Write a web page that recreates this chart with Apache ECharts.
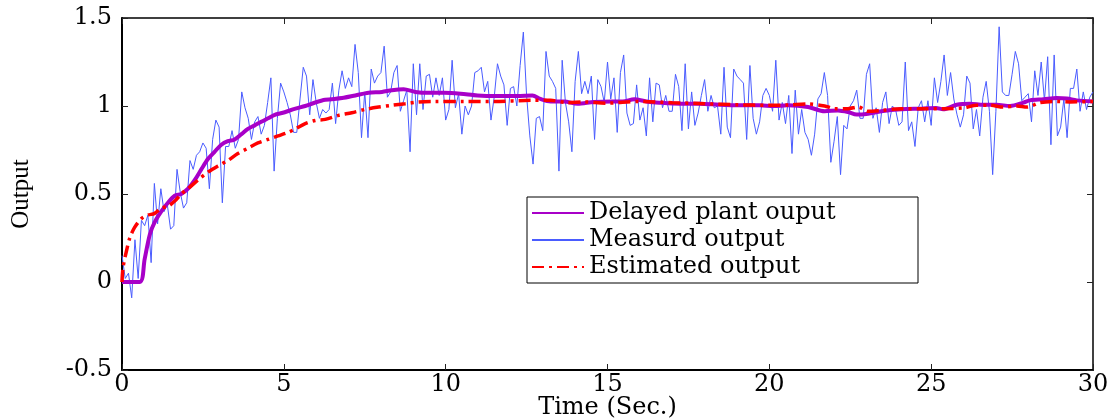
<!DOCTYPE html>
<html>
<head>
<meta charset="utf-8">
<script src="https://cdn.jsdelivr.net/npm/echarts@6/dist/echarts.min.js"></script>
<style>
html, body { margin: 0; padding: 0; background: #fff; }
#chart { width: 1115px; height: 419px; }
</style>
</head>
<body>
<div id="chart"></div>
<script>
// measured output, sampled every 0.1 s
var measStep = 0.1;
var measured = [
    0.15, 0.02, 0.05, -0.09, 0.24, 0.02, 0.35, 0.32, 0.38, 0.11, 0.56, 0.33, 0.53, 0.40, 0.44, 0.30, 0.32, 0.64, 0.51, 0.42,
    0.45, 0.69, 0.64, 0.72, 0.74, 0.79, 0.76, 0.53, 0.81, 0.92, 0.88, 0.45, 0.77, 0.77, 0.86, 0.76, 0.81, 1.08, 0.99, 0.93,
    0.81, 0.91, 0.94, 0.84, 0.89, 1.02, 1.16, 0.63, 0.93, 1.13, 1.08, 1.02, 0.95, 0.85, 0.85, 1.04, 1.22, 1.17, 0.95, 1.15,
    1.02, 0.93, 0.98, 0.96, 0.98, 1.13, 0.90, 1.09, 1.20, 1.10, 1.16, 1.11, 1.35, 1.19, 0.82, 1.08,
    0.82, 1.21, 1.13, 1.17, 1.19, 1.34, 1.05, 1.08, 1.19, 1.23, 0.97, 1.03, 1.09, 0.74, 1.24, 0.95, 1.24, 0.98, 1.17, 1.18,
    1.05, 1.16, 1.06, 1.16, 0.92, 0.98, 1.26, 0.99, 1.07, 0.84, 1.00, 0.95, 1.00, 1.19, 1.20, 1.22, 1.08, 1.14, 0.92, 1.05,
    1.24, 1.17, 1.12, 0.89, 1.10, 1.11, 1.00, 1.23, 1.42, 1.06, 0.83, 0.67, 0.93, 0.94, 0.86, 1.31, 1.17, 1.14, 1.10, 0.63,
    1.26, 1.02, 0.91, 0.74, 1.14, 1.31, 1.07, 1.14, 1.07, 1.17, 0.81, 1.15, 1.11, 1.02, 1.25,
    1.04, 1.16, 0.85, 1.19, 1.29, 0.96, 0.89, 0.90, 1.12, 0.92, 0.99, 0.83, 1.16, 0.91, 1.13, 1.12, 0.99, 1.06, 0.97, 0.97,
    1.18, 1.11, 0.86, 1.24, 0.87, 1.08, 0.89, 0.96, 1.06, 1.15, 0.97, 1.06, 0.99, 1.00, 0.84, 1.22, 0.88, 0.82, 1.21, 1.17,
    1.15, 1.13, 0.81, 1.23, 0.93, 0.84, 0.91, 1.06, 1.10,
    1.06, 0.97, 1.26, 0.92, 1.02, 0.90, 1.06, 0.73, 1.09, 0.84, 0.98, 0.85, 0.81, 0.72, 0.84, 1.04, 1.07, 1.19, 1.06, 0.68,
    0.80, 0.94, 0.61, 0.89, 0.87, 1.00, 1.03, 1.09, 0.93, 0.93, 1.18, 1.24, 0.93, 0.99, 0.85, 1.02, 1.08, 0.90, 1.00, 0.98,
    0.89, 0.91, 1.25, 0.86, 0.91, 0.77, 0.99, 1.03, 0.91, 1.03,
    0.89, 1.16, 1.02, 1.14, 1.29, 1.06, 1.19, 1.04, 0.95, 0.88, 0.95, 1.17, 1.13, 0.87, 0.98, 0.83, 1.05, 1.14, 0.97, 0.61,
    0.97, 1.45, 1.08, 1.06, 1.06, 1.18, 1.31, 1.24, 1.03, 1.05, 1.07, 0.91, 1.20, 1.06, 1.25, 1.03, 1.28, 0.78, 1.29, 0.83,
    0.88, 1.04, 0.82, 1.10, 1.10, 1.21, 0.97, 1.08, 0.98, 1.05, 1.08
];

// delayed plant output
var plantT = [0, 0.55, 0.7, 0.86, 1.01, 1.21, 1.42, 1.63, 1.83, 2.04, 2.25, 2.45, 2.66, 2.86, 3.07, 3.27, 3.48, 3.69, 3.89, 4.1,
    4.3, 4.51, 4.72, 4.94, 5.36, 5.66, 5.97, 6.28, 6.8, 7.21, 7.62, 8.03, 8.34, 8.7, 9.06, 9.48, 9.95, 10.46, 10.98, 11.6,
    12.21, 12.68, 12.93, 13.24, 13.66, 14.07, 14.58, 15.14, 15.47, 15.83, 16.2, 16.6, 17.22, 17.84, 18.46, 19.07, 19.69, 20.14, 20.57, 21.2,
    21.71, 22.12, 22.43, 22.7, 23.05, 23.46, 24.08, 24.7, 25.15, 25.37, 25.79, 26.2, 26.61, 27.02, 27.44, 27.85, 28.05, 28.47, 28.88, 29.19,
    29.5, 30];
var plantV = [0, 0, 0.13, 0.27, 0.34, 0.40, 0.45, 0.49, 0.50, 0.53, 0.58, 0.64, 0.70, 0.74, 0.78, 0.80, 0.81, 0.84, 0.87, 0.89,
    0.91, 0.93, 0.95, 0.96, 0.985, 1.0, 1.02, 1.035, 1.045, 1.06, 1.075, 1.08, 1.09, 1.095, 1.08, 1.075, 1.075, 1.07, 1.06, 1.057,
    1.057, 1.06, 1.04, 1.026, 1.026, 1.013, 1.023, 1.026, 1.026, 1.038, 1.026, 1.019, 1.013, 1.013, 1.007, 1.004, 1.004, 1.0, 1.004, 0.994,
    0.97, 0.975, 0.966, 0.951, 0.956, 0.97, 0.981, 0.985, 0.989, 0.981, 1.007, 1.013, 1.007, 1.007, 1.0, 1.019, 1.032, 1.038, 1.045, 1.042,
    1.032, 1.026];

// estimated output
var estT = [0, 0.03, 0.13, 0.24, 0.39, 0.6, 0.8, 1.01, 1.21, 1.42, 1.63, 1.83, 2.04, 2.35, 2.66, 2.97, 3.27, 3.58, 3.89, 4.2,
    4.51, 4.82, 5.13, 5.36, 5.66, 5.97, 6.28, 6.69, 7.1, 7.52, 7.93, 8.34, 8.75, 9.17, 9.68, 10.56, 11.5, 12.63, 13.24, 13.76,
    14.27, 14.95, 15.98, 17.0, 18.0, 19.0, 19.96, 20.57, 21.2, 21.71, 22.02, 22.43, 22.75, 23.05, 23.46, 24.08, 24.7, 25.37, 26.0, 26.41,
    26.82, 27.23, 27.65, 27.96, 28.36, 28.88, 29.29, 30];
var estV = [0, 0.08, 0.17, 0.25, 0.31, 0.36, 0.38, 0.39, 0.42, 0.43, 0.46, 0.50, 0.53, 0.58, 0.625, 0.66, 0.69, 0.73, 0.76, 0.79,
    0.81, 0.83, 0.85, 0.87, 0.90, 0.918, 0.924, 0.947, 0.962, 0.981, 0.994, 1.004, 1.013, 1.023, 1.026, 1.026, 1.026, 1.032, 1.032, 1.019,
    1.023, 1.016, 1.026, 1.019, 1.013, 1.007, 1.004, 1.006, 1.011, 1.0, 0.985, 0.985, 0.994, 0.97, 0.975, 0.985, 0.985, 0.985, 0.989, 1.004,
    1.004, 0.994, 1.0, 0.994, 1.019, 1.026, 1.023, 1.026];

var legendNames = ['Delayed plant ouput', 'Measurd output', 'Estimated output'];

function pairs(xs, ys) {
    var out = [];
    for (var i = 0; i < ys.length; i++) out.push([xs[i], ys[i]]);
    return out;
}
var measData = measured.map(function (v, i) { return [+(i * measStep).toFixed(2), v]; });

var serif = 'DejaVu Serif';
var myChart = echarts.init(document.getElementById('chart'));
var tickStyle = { show: true, inside: true, length: 6, lineStyle: { color: '#222', width: 1 } };

var option = {
    animation: false,
    backgroundColor: '#fff',
    grid: { left: 122, right: 22, top: 18, bottom: 49, outerBoundsMode: 'none', containLabel: false },
    legend: {
        data: legendNames,
        orient: 'vertical',
        left: 527,
        top: 197,
        padding: [4, 4, 4, 4],
        itemGap: 3,
        itemWidth: 52,
        itemHeight: 14,
        backgroundColor: '#fff',
        borderColor: '#000',
        borderWidth: 1,
        borderRadius: 0,
        itemStyle: { opacity: 0 }, // hide the marker dot, keep the line sample
        textStyle: { fontFamily: serif, fontSize: 24, color: '#000', width: 325, lineHeight: 24 }
    },
    xAxis: [{
        type: 'value', min: 0, max: 30, interval: 5,
        name: 'Time (Sec.)', nameLocation: 'middle', nameGap: 26, nameMoveOverlap: false,
        nameTextStyle: { fontFamily: serif, fontSize: 24, color: '#000' },
        axisLine: { onZero: false, lineStyle: { color: '#000', width: 2 } },
        axisTick: tickStyle,
        axisLabel: { fontFamily: serif, fontSize: 24, color: '#000', margin: 3 },
        splitLine: { show: false }
    }, {
        type: 'value', min: 0, max: 30, interval: 5, position: 'top',
        axisLine: { onZero: false, lineStyle: { color: '#000', width: 1.5 } },
        axisTick: tickStyle,
        axisLabel: { show: false },
        splitLine: { show: false }
    }],
    yAxis: [{
        type: 'value', min: -0.5, max: 1.5, interval: 0.5,
        name: 'Output', nameLocation: 'middle', nameGap: 88, nameRotate: 90, nameMoveOverlap: false,
        nameTextStyle: { fontFamily: 'Liberation Serif', fontSize: 25, color: '#000' },
        axisLine: { show: true, onZero: false, lineStyle: { color: '#000', width: 2 } },
        axisTick: tickStyle,
        axisLabel: { fontFamily: serif, fontSize: 24, color: '#000', margin: 10 },
        splitLine: { show: false }
    }, {
        type: 'value', min: -0.5, max: 1.5, interval: 0.5, position: 'right',
        axisLine: { show: true, onZero: false, lineStyle: { color: '#000', width: 1.5 } },
        axisTick: tickStyle,
        axisLabel: { show: false },
        splitLine: { show: false }
    }],
    series: [{
        name: 'Measurd output',
        type: 'line',
        symbol: 'none',
        data: measData,
        lineStyle: { color: '#4a5cff', width: 1 },
        itemStyle: { color: '#4a5cff' },
        z: 2
    }, {
        name: 'Delayed plant ouput',
        type: 'line',
        symbol: 'none',
        smooth: 0.3,
        data: pairs(plantT, plantV),
        lineStyle: { color: '#a800c8', width: 4 },
        itemStyle: { color: '#a800c8' },
        z: 3
    }, {
        name: 'Estimated output',
        type: 'line',
        symbol: 'none',
        smooth: 0.3,
        data: pairs(estT, estV),
        lineStyle: { color: '#ff0000', width: 3.5, type: [12, 5, 3, 5] },
        itemStyle: { color: '#ff0000' },
        z: 4
    }]
};
myChart.setOption(option);
</script>
</body>
</html>
